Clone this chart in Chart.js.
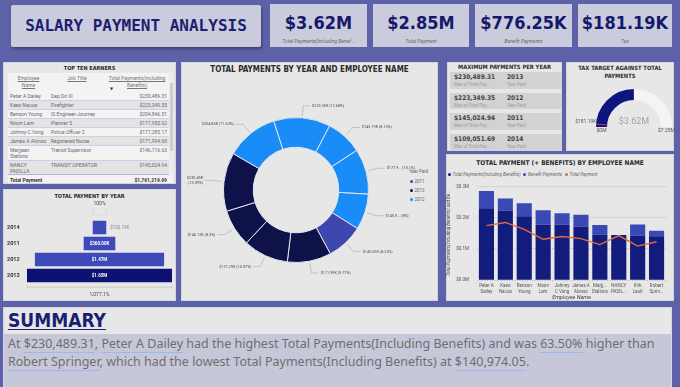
<!DOCTYPE html>
<html>
<head>
<meta charset="utf-8">
<title>Salary Payment Analysis</title>
<script src="https://cdn.jsdelivr.net/npm/chart.js@4.4.1/dist/chart.umd.min.js"></script>
<style>
  body { margin:0; width:680px; height:387px; overflow:hidden; position:relative; background:#5d62a8; font-family:Roboto, 'DejaVu Sans', sans-serif; }
  .abs { position:absolute; box-sizing:border-box; }
  .card { background:#caccdd; }
  .panel { background:#e7e7e7; border:1px solid #d3d5e4; overflow:hidden; }
  .ptitle { position:absolute; left:0; right:0; text-align:center; font-family:'DejaVu Sans Condensed','DejaVu Sans',sans-serif; font-weight:bold; color:#2b2b2b; white-space:nowrap; }
  .kpi { text-align:center; }
  .kpi .v { font:bold 18px 'DejaVu Sans Condensed','DejaVu Sans',sans-serif; color:#16196b; margin-top:9px; line-height:20px; }
  .kpi .l { font:italic 5px Roboto, sans-serif; color:#666; margin-top:5px; }
  #tt table { border-collapse:collapse; table-layout:fixed; width:161px; font-size:5px; color:#6a6a6a; }
  #tt td { padding:1px 2px 1px 2px; line-height:6px; vertical-align:top; border-bottom:1px solid #cdd0ea; }
  #tt tr.alt td { background:#e4e4e4; }
  #tt td.num { text-align:right; }
  .mrow { position:absolute; left:2px; width:111px; height:16.5px; background:#d2d2d2; }
  .mrow .mv { position:absolute; left:4px; top:1px; font:bold 6.5px 'DejaVu Sans Condensed','DejaVu Sans',sans-serif; color:#444; }
  .mrow .my { position:absolute; left:57px; top:1px; font:bold 6.5px 'DejaVu Sans Condensed','DejaVu Sans',sans-serif; color:#444; }
  .mrow .ms { position:absolute; top:10px; font:italic 4.5px Roboto, sans-serif; color:#9a9a9a; }
  .leg { position:absolute; font:4.5px Roboto, sans-serif; color:#666; white-space:nowrap; }
  .dot { display:inline-block; width:3px; height:3px; border-radius:50%; margin-right:1.5px; vertical-align:middle; }
  #summaryText u { text-decoration:none; border-bottom:1px solid #9db8ea; }
</style>
</head>
<body>

<div class="abs card" style="left:11px;top:5px;width:250px;height:42px;border-radius:2px;box-shadow:1px 2px 3px rgba(0,0,0,0.35)">
  <div style="font:bold 16px 'DejaVu Sans Mono',monospace;color:#1c2070;text-align:center;line-height:42px;">SALARY PAYMENT ANALYSIS</div>
</div>
<div class="abs card kpi" style="left:270px;top:4px;width:97px;height:43px"><div class="v" id="kv0"></div><div class="l" id="kl0"></div></div>
<div class="abs card kpi" style="left:373px;top:4px;width:96px;height:43px"><div class="v" id="kv1"></div><div class="l" id="kl1"></div></div>
<div class="abs card kpi" style="left:475px;top:4px;width:97px;height:43px"><div class="v" id="kv2"></div><div class="l" id="kl2"></div></div>
<div class="abs card kpi" style="left:578px;top:4px;width:94px;height:43px"><div class="v" id="kv3"></div><div class="l" id="kl3"></div></div>

<!-- top ten table -->
<div class="abs panel" id="tt" style="left:3px;top:62px;width:173px;height:122px">
  <div class="ptitle" style="top:2px;font-size:5.5px">TOP TEN EARNERS</div>
  <div class="abs" style="left:4px;top:10px;width:165px;height:111px;background:#f3f3f3">
    <div class="abs" style="left:0;top:0;width:161px;height:19px;font-size:5px;color:#777;">
      <div class="abs" style="left:0;top:2px;width:41px;text-align:center;line-height:7px;text-decoration:underline">Employee<br>Name</div>
      <div class="abs" style="left:41px;top:2px;width:56px;text-align:center;line-height:7px;text-decoration:underline">Job Title</div>
      <div class="abs" style="left:97px;top:2px;width:64px;text-align:center;line-height:7px;text-decoration:underline">Total Payments(Including<br>Benefits)</div>
      <div class="abs" style="left:102px;top:13px;font-size:4px;color:#333">&#9660;</div>
    </div>
    <div class="abs" style="left:0;top:19px;width:161px;height:82px;overflow:hidden"><table id="ttBody"></table></div>
    <div class="abs" style="left:0;top:101px;width:161px;height:9px;border-top:1px solid #aeb3e0;font:bold 5px Roboto,sans-serif;color:#333">
      <div class="abs" style="left:2px;top:1.5px">Total Payment</div>
      <div class="abs" id="ttTotal" style="right:2px;top:1.5px"></div>
    </div>
    <div class="abs" style="left:161px;top:0;width:4px;height:101px;background:#ececec">
      <div class="abs" style="left:0.5px;top:10px;width:3px;height:68px;background:#cdcdcd;border-radius:1px"></div>
    </div>
  </div>
</div>

<!-- funnel -->
<div class="abs panel" style="left:3px;top:189px;width:173px;height:112px">
  <div class="ptitle" style="top:3px;font-size:5.5px">TOTAL PAYMENT BY YEAR</div>
</div>
<canvas class="abs" id="funnel" width="172" height="100" style="left:3px;top:201px"></canvas>

<!-- donut -->
<div class="abs panel" style="left:181px;top:62px;width:257px;height:239px">
  <div class="ptitle" style="top:2px;font-size:8px">TOTAL PAYMENTS BY YEAR AND EMPLOYEE NAME</div>
  <div id="donutLegend"></div>
</div>
<canvas class="abs" id="donut" width="257" height="239" style="left:181px;top:62px"></canvas>

<!-- max payments -->
<div class="abs panel" id="maxPanel" style="left:447px;top:62px;width:115px;height:89px">
  <div class="ptitle" style="top:1px;font-size:5.8px">MAXIMUM PAYMENTS PER YEAR</div>
</div>

<!-- gauge -->
<div class="abs panel" style="left:566px;top:62px;width:108px;height:89px">
  <div class="ptitle" style="top:1px;font-size:5.8px;line-height:8px">TAX TARGET AGAINST TOTAL<br>PAYMENTS</div>
</div>
<canvas class="abs" id="gauge" width="108" height="89" style="left:566px;top:62px"></canvas>

<!-- bar + line -->
<div class="abs panel" style="left:446px;top:154px;width:228px;height:147px">
  <div class="ptitle" style="top:4px;font-size:6.5px">TOTAL PAYMENT (+ BENEFITS) BY EMPLOYEE NAME</div>
  <div id="barLegend" class="leg" style="left:1px;top:17px;font-style:italic"></div>
</div>
<canvas class="abs" id="bars" width="226" height="125" style="left:446px;top:176px"></canvas>

<!-- summary -->
<div class="abs" style="left:3px;top:307px;width:669px;height:82px;background:#c6c8da;border:1px solid #d6d8e6">
  <div class="abs" style="left:0;top:0;width:667px;height:26px;background:#e7e7e7">
    <div style="position:absolute;left:4px;top:1px;font:bold 19px 'DejaVu Sans Condensed','DejaVu Sans',sans-serif;color:#1a1f71;text-decoration:underline;text-underline-offset:2px">SUMMARY</div>
  </div>
  <div id="summaryText" class="abs" style="left:4px;top:27px;width:660px;font:12.5px 'Noto Sans',sans-serif;color:#6e6e6e;line-height:18px"></div>
</div>

<script>
// values
const kpiLabels = ['Total Payments(Including Benef...', 'Total Payment', 'Benefit Payments', 'Tax'];
const kpiValues = [3620000, 2850000, 776250, 181190];

const employees = ['Peter A Dailey', 'Kaeo Nacua', 'Benson Young', 'Nixon Lam', 'Johnny C Vong', 'James A Alonso', 'Marjjean Stallons', 'NANCY PADILLA', 'Kirk Lauti', 'Robert Springer'];
const jobTitles = ['Dep Dir III', 'Firefighter', 'IS Engineer-Journey', 'Planner 5', 'Police Officer 2', 'Registered Nurse', 'Transit Supervisor', 'TRANSIT OPERATOR'];
const totalInclBenefits = [230489.31, 223349.35, 204846.51, 177953.62, 177285.17, 171994.6, 146116.63, 145024.94, 143185.81, 140974.05];
const benefitPayments = [56000, 39000, 42000, 46000, 37000, 38000, 31000, 0, 35000, 17000];
const totalPayments = [175000, 185000, 163000, 131000, 140000, 133000, 114000, 143000, 109000, 123000];
const yearPaid = [2013, 2012, 2012, 2012, 2013, 2013, 2013, 2011, 2012, 2012];
const barTickLabels = [['Peter A', 'Dailey'], ['Kaeo', 'Nacua'], ['Benson', 'Young'], ['Nixon', 'Lam'], ['Johnny', 'C Vong'], ['James A', 'Alonso'], ['Marjj...', 'Stallons'], ['NANCY', 'PADIL...'], ['Kirk', 'Lauti'], ['Robert', 'Sprin...']];
const yTicks = [0, 100000, 200000, 300000];

// donut slices, clockwise, as indexes into employees
const donutOrder = [1, 8, 3, 9, 7, 5, 4, 6, 0, 2];
const legendYears = [2011, 2013, 2012];

const funnelYears = ['2014', '2011', '2012', '2013'];
const funnelTotals = [153190, 360000, 1470000, 1650000];

const maxPayYears = ['2013', '2012', '2011', '2014'];
const maxPayValues = [230489.31, 223349.35, 145024.94, 109051.69];

const gaugeMax = 7250000;

const yearColors = { 2011: '#3d47ae', 2012: '#1a8cf8', 2013: '#0e1249' };

Chart.defaults.font.family = "Roboto, 'DejaVu Sans', sans-serif";
Chart.defaults.color = '#555';
Chart.defaults.animation = false;

const money = v => '$' + v.toLocaleString('en-US', { minimumFractionDigits: 2, maximumFractionDigits: 2 });
const short = v => v >= 1e6 ? '$' + (v / 1e6).toFixed(2) + 'M' : '$' + (v / 1e3).toFixed(2) + 'K';
const trimNum = (v, d) => String(parseFloat(v.toFixed(d)));

// kpi cards
kpiValues.forEach((v, i) => {
    document.getElementById('kv' + i).textContent = short(v);
    document.getElementById('kl' + i).textContent = kpiLabels[i];
});

// top ten table
let rows = '<colgroup><col style="width:41px"><col style="width:56px"><col style="width:64px"></colgroup>';
jobTitles.forEach((job, i) => {
    rows += `<tr class="${i % 2 ? 'alt' : ''}"><td>${employees[i]}</td><td>${job}</td><td class="num">${money(totalInclBenefits[i])}</td></tr>`;
});
document.getElementById('ttBody').innerHTML = rows;
document.getElementById('ttTotal').textContent = money(totalInclBenefits.reduce((a, b) => a + b, 0));

// max payments card
const maxPanel = document.getElementById('maxPanel');
maxPayValues.forEach((v, i) => {
    const row = document.createElement('div');
    row.className = 'mrow';
    row.style.top = (9 + i * 20.7) + 'px';
    row.innerHTML = `<div class="mv">${money(v)}</div><div class="ms" style="left:4px">Max of Total Pay...</div>` +
        `<div class="my">${maxPayYears[i]}</div><div class="ms" style="left:57px">Year Paid</div>`;
    maxPanel.appendChild(row);
});

// donut legend
let lg = '<div class="leg" style="left:227px;top:106px">Year Paid</div>';
legendYears.forEach((y, i) => {
    lg += `<div class="leg" style="left:228px;top:${116 + i * 9}px"><span class="dot" style="background:${yearColors[y]}"></span>${y}</div>`;
});
document.getElementById('donutLegend').innerHTML = lg;

// bar legend
const barSeries = ['Total Payments(Including Benefits)', 'Benefit Payments', 'Total Payment'];
const barColors = ['#111c7c', '#3b49b6', '#e46b3a'];
document.getElementById('barLegend').innerHTML = barSeries.map((s, i) =>
    `<span class="dot" style="background:${barColors[i]}"></span><span style="margin-right:3px">${s}</span>`).join('');

// summary
const maxV = Math.max(...totalInclBenefits), minV = Math.min(...totalInclBenefits);
const hi = totalInclBenefits.indexOf(maxV), lo = totalInclBenefits.indexOf(minV);
const pct = ((maxV - minV) / minV * 100).toFixed(2);
document.getElementById('summaryText').innerHTML =
    `At <u>${money(maxV)}</u>, <u>${employees[hi]}</u> had the highest Total Payments(Including Benefits) and was <u>${pct}%</u> higher than ` +
    `<u>${employees[lo]}</u>, which had the lowest Total Payments(Including Benefits) at <u>${money(minV)}</u>.`;

// donut with leader labels
const donutValues = donutOrder.map(i => totalInclBenefits[i]);
const donutTotal = donutValues.reduce((a, b) => a + b, 0);

const sliceLabels = {
    id: 'sliceLabels',
    afterDatasetsDraw(chart) {
        const ctx = chart.ctx;
        const arcs = chart.getDatasetMeta(0).data;
        ctx.save();
        ctx.font = '3.8px Roboto';
        ctx.strokeStyle = '#9a9a9a';
        ctx.lineWidth = 0.5;
        ctx.fillStyle = '#4a4a4a';
        ctx.textBaseline = 'middle';
        arcs.forEach((arc, i) => {
            const p = arc.getProps(['x', 'y', 'startAngle', 'endAngle', 'outerRadius'], true);
            const mid = (p.startAngle + p.endAngle) / 2;
            const c = Math.cos(mid), s = Math.sin(mid);
            const right = c >= 0;
            const x0 = p.x + c * (p.outerRadius + 2), y0 = p.y + s * (p.outerRadius + 2);
            const x1 = p.x + c * (p.outerRadius + 12), y1 = p.y + s * (p.outerRadius + 12);
            const x2 = x1 + (right ? 7 : -7);
            ctx.beginPath();
            ctx.moveTo(x0, y0); ctx.lineTo(x1, y1); ctx.lineTo(x2, y1);
            ctx.stroke();
            const v = donutValues[i];
            let val = '$' + trimNum(v / 1000, 2) + 'K';
            const share = '(' + trimNum(v / donutTotal * 100, 2) + '%)';
            const tx = x2 + (right ? 2 : -2);
            ctx.textAlign = right ? 'left' : 'right';
            if (right && tx + ctx.measureText(val + ' ' + share).width > 224) {
                val = val.slice(0, 6) + '...';
            }
            const full = val + ' ' + share;
            if (!right && tx - ctx.measureText(full).width < 6) {
                ctx.fillText(val, tx, y1 - 2.3);
                ctx.fillText(share, tx, y1 + 2.3);
            } else {
                ctx.fillText(full, tx, y1);
            }
        });
        ctx.restore();
    }
};

new Chart(document.getElementById('donut'), {
    type: 'doughnut',
    data: {
        labels: donutOrder.map(i => employees[i]),
        datasets: [{
            data: donutValues,
            backgroundColor: donutOrder.map(i => yearColors[yearPaid[i]]),
            borderColor: '#dfe4ee',
            borderWidth: 1
        }]
    },
    options: {
        responsive: false,
        rotation: -18,
        cutout: '59%',
        layout: { padding: { left: 42, top: 55, right: 69, bottom: 38 } },
        plugins: { legend: { display: false }, tooltip: { enabled: false } }
    },
    plugins: [sliceLabels]
});

// funnel as floating horizontal bars
const funnelMax = Math.max(...funnelTotals);
const funnelDecor = {
    id: 'funnelDecor',
    afterDatasetsDraw(chart) {
        const ctx = chart.ctx;
        const bars = chart.getDatasetMeta(0).data;
        ctx.save();
        ctx.textBaseline = 'middle';
        bars.forEach((bar, i) => {
            const p = bar.getProps(['x', 'y', 'base'], true);
            const txt = short(funnelTotals[i]);
            ctx.font = 'bold 4.5px Roboto';
            const tw = ctx.measureText(txt).width;
            if (tw + 6 < p.x - p.base) {
                ctx.fillStyle = '#ffffff';
                ctx.textAlign = 'center';
                ctx.fillText(txt, (p.x + p.base) / 2, p.y);
            } else {
                ctx.font = '4.5px Roboto';
                ctx.fillStyle = '#8a8a8a';
                ctx.textAlign = 'left';
                ctx.fillText(txt, p.x + 4, p.y);
            }
        });
        const first = bars[0].getProps(['x', 'base', 'y', 'height'], true);
        const last = bars[bars.length - 1].getProps(['x', 'base', 'y', 'height'], true);
        ctx.strokeStyle = '#b8b8b8';
        ctx.lineWidth = 0.6;
        ctx.setLineDash([1, 1]);
        const tb = first.y - first.height / 2 - 6;
        ctx.beginPath();
        ctx.moveTo(first.base, tb - 7); ctx.lineTo(first.base, tb);
        ctx.lineTo(first.x, tb); ctx.lineTo(first.x, tb - 7);
        ctx.stroke();
        ctx.setLineDash([]);
        const bb = last.y + last.height / 2 + 5;
        ctx.beginPath();
        ctx.moveTo(last.base, bb - 2); ctx.lineTo(last.base, bb);
        ctx.lineTo(last.x, bb); ctx.lineTo(last.x, bb - 2);
        ctx.stroke();
        ctx.fillStyle = '#444';
        ctx.font = '5px Roboto';
        ctx.textAlign = 'center';
        ctx.fillText('100%', (first.x + first.base) / 2, tb - 11);
        const ratio = funnelTotals[funnelTotals.length - 1] / funnelTotals[0] * 100;
        ctx.fillText(ratio.toLocaleString('en-US', { minimumFractionDigits: 1, maximumFractionDigits: 1 }) + '%', (last.x + last.base) / 2, bb + 8);
        ctx.restore();
    }
};

new Chart(document.getElementById('funnel'), {
    type: 'bar',
    data: {
        labels: funnelYears,
        datasets: [{
            data: funnelTotals.map(v => [-v / 2, v / 2]),
            backgroundColor: funnelTotals.map(v => v === funnelMax ? '#0b1273' : '#3e4abc'),
            barPercentage: 0.84,
            categoryPercentage: 1
        }]
    },
    options: {
        indexAxis: 'y',
        responsive: false,
        layout: { padding: { left: 4, right: 3, top: 18.5, bottom: 17.5 } },
        plugins: { legend: { display: false }, tooltip: { enabled: false } },
        scales: {
            x: { display: false, min: -funnelMax / 2, max: funnelMax / 2 },
            y: {
                grid: { display: false, drawTicks: false }, border: { display: false },
                ticks: { crossAlign: 'far', padding: 0, color: '#333', font: { size: 5.5, weight: 'bold' } },
                afterFit: s => { s.width = 20; }
            }
        }
    },
    plugins: [funnelDecor]
});

// gauge
const gaugeDecor = {
    id: 'gaugeDecor',
    afterDatasetsDraw(chart) {
        const ctx = chart.ctx;
        const p = chart.getDatasetMeta(0).data[0].getProps(['x', 'y', 'innerRadius', 'outerRadius'], true);
        const a = Math.PI + Math.PI * kpiValues[3] / gaugeMax;
        ctx.save();
        ctx.strokeStyle = '#e0302c';
        ctx.lineWidth = 1;
        ctx.beginPath();
        ctx.moveTo(p.x + Math.cos(a) * p.innerRadius, p.y + Math.sin(a) * p.innerRadius);
        ctx.lineTo(p.x + Math.cos(a) * p.outerRadius, p.y + Math.sin(a) * p.outerRadius);
        ctx.stroke();
        const mid = (p.innerRadius + p.outerRadius) / 2;
        ctx.textBaseline = 'middle';
        ctx.textAlign = 'center';
        ctx.fillStyle = '#555';
        ctx.font = '5px Roboto';
        ctx.fillText('$0M', p.x - mid, p.y + 4);
        ctx.fillText(short(gaugeMax), p.x + mid, p.y + 4);
        ctx.textAlign = 'right';
        ctx.fillText(short(kpiValues[3]), p.x - p.outerRadius + 0.5, p.y + Math.sin(a) * p.outerRadius - 2.5);
        ctx.textAlign = 'center';
        ctx.fillStyle = '#a3a3a3';
        ctx.font = '9px Roboto';
        ctx.fillText(short(kpiValues[0]), p.x, p.y - 5);
        ctx.restore();
    }
};

new Chart(document.getElementById('gauge'), {
    type: 'doughnut',
    data: { datasets: [{ data: [kpiValues[0], gaugeMax - kpiValues[0]], backgroundColor: ['#0c1580', '#f4f4f4'], borderWidth: 0 }] },
    options: {
        responsive: false,
        circumference: 180,
        rotation: -90,
        cutout: '71%',
        layout: { padding: { left: 30, right: 2, top: 27, bottom: 24 } },
        plugins: { legend: { display: false }, tooltip: { enabled: false } }
    },
    plugins: [gaugeDecor]
});

// stacked bars + line
new Chart(document.getElementById('bars'), {
    type: 'bar',
    data: {
        labels: barTickLabels,
        datasets: [
            { type: 'line', label: barSeries[2], data: totalPayments, borderColor: barColors[2], borderWidth: 1.4, pointRadius: 0, tension: 0, order: 0 },
            { label: barSeries[0], data: totalInclBenefits, backgroundColor: barColors[0], stack: 's', order: 1 },
            { label: barSeries[1], data: benefitPayments, backgroundColor: barColors[1], stack: 's', order: 1 }
        ]
    },
    options: {
        responsive: false,
        barPercentage: 0.8,
        categoryPercentage: 1,
        layout: { padding: { top: 5, right: 6, left: 0, bottom: 0 } },
        plugins: { legend: { display: false }, tooltip: { enabled: false } },
        scales: {
            x: {
                stacked: true,
                grid: { display: false, drawTicks: false }, border: { display: false },
                ticks: { maxRotation: 0, autoSkip: false, padding: 3, color: '#555', font: { size: 4.5, lineHeight: 1.25 } },
                title: { display: true, text: 'Employee Name', color: '#444', padding: 0, font: { size: 5.5, style: 'italic' } },
                afterFit: s => { s.height = 21; }
            },
            y: {
                stacked: true, min: 0, max: 300000,
                afterBuildTicks: s => { s.ticks = yTicks.map(v => ({ value: v })); },
                grid: { color: '#9c9c9c', lineWidth: 0.6, drawTicks: false },
                border: { display: false, dash: [1, 1.5] },
                ticks: { padding: 8, color: '#555', font: { size: 4.5 }, callback: v => '$' + (v / 1e6).toFixed(1) + 'M' },
                title: { display: true, text: 'Total Payments(Including Benefits) and Be...', color: '#444', padding: 0, font: { size: 4.5, style: 'italic' } },
                afterFit: s => { s.width = 31; }
            }
        }
    }
});
</script>
</body>
</html>
